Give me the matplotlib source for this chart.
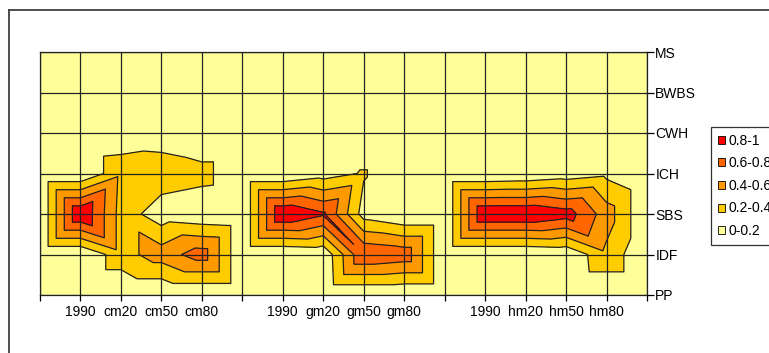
import numpy as np
import matplotlib
matplotlib.use("Agg")
import matplotlib.pyplot as plt
import matplotlib.tri as mtri
from matplotlib.patches import Patch
from matplotlib.lines import Line2D

plt.rcParams['font.family'] = ['Liberation Sans', 'DejaVu Sans']

# categories
cols = ["", "1990", "cm20", "cm50", "cm80", "", "1990", "gm20", "gm50", "gm80",
        "", "1990", "hm20", "hm50", "hm80", ""]
zones = ["PP", "IDF", "SBS", "ICH", "CWH", "BWBS", "MS"]

# one row of values per zone (bottom to top)
pp   = [0, 0,    0,    0,    0,    0, 0,   0,    0,    0,    0, 0,   0,    0,    0,    0]
idf  = [0, 0,    0.32, 0.5,  0.7,  0, 0,   0.03, 0.79, 0.73, 0, 0,   0,    0.03, 0.35, 0]
sbs  = [0, 1.0,  0.32, 0.08, 0.03, 0, 1.0, 0.83, 0.11, 0,    0, 1.0, 1.0,  0.9,  0.5,  0]
ich  = [0, 0,    0.35, 0.33, 0.28, 0, 0,   0.1,  0.22, 0,    0, 0,   0.02, 0.08, 0.15, 0]
cwh  = [0, 0,    0.03, 0.08, 0,    0, 0,   0,    0,    0,    0, 0,   0,    0,    0,    0]
bwbs = [0]*16
ms   = [0]*16

levels = [0, 0.2, 0.4, 0.6, 0.8, 1.001]
colors = ["#FFFF99", "#FFCC00", "#FF9900", "#FF6600", "#FF0000"]
bands = ["0-0.2", "0.2-0.4", "0.4-0.6", "0.6-0.8", "0.8-1"]

Z = np.array([pp, idf, sbs, ich, cwh, bwbs, ms], dtype=float)
ny, nx = Z.shape
X, Y = np.meshgrid(np.arange(nx), np.arange(ny))

# split every cell along the diagonal with the larger sum (like excel does)
tris = []
for j in range(ny - 1):
    for i in range(nx - 1):
        a = j * nx + i
        b = a + 1
        c = a + nx
        d = c + 1
        if Z[j, i] + Z[j + 1, i + 1] >= Z[j, i + 1] + Z[j + 1, i]:
            tris += [[a, b, d], [a, d, c]]
        else:
            tris += [[a, b, c], [b, d, c]]
tri = mtri.Triangulation(X.ravel(), Y.ravel(), tris)

fig = plt.figure(figsize=(7.69, 3.53), dpi=100)
ax = fig.add_axes([40 / 769, 58 / 353, 607 / 769, 243 / 353])

ax.tricontourf(tri, Z.ravel(), levels=levels, colors=colors)
ax.tricontour(tri, Z.ravel(), levels=levels[1:5], colors='#222222', linewidths=0.9)

ax.set_xlim(0, nx - 1)
ax.set_ylim(0, ny - 1)
ax.set_xticks(range(nx))
ax.set_xticklabels(cols, fontsize=10)
ax.set_yticks(range(ny))
ax.set_yticklabels(zones, fontsize=10)
ax.yaxis.tick_right()
ax.tick_params(axis='x', length=4, width=0.9, pad=3)
ax.tick_params(axis='y', length=5, width=0.9, pad=1)
ax.grid(True, color='#222222', linewidth=0.9)
ax.set_axisbelow(False)
for s in ax.spines.values():
    s.set_color('#222222')
    s.set_linewidth(0.9)

# chart area border (cut off at right and bottom)
fig.add_artist(Line2D([8.7 / 769, 8.7 / 769], [0, 1 - 10 / 353], color='#404040', lw=1.3))
fig.add_artist(Line2D([8.7 / 769, 1], [1 - 10 / 353, 1 - 10 / 353], color='#404040', lw=1.3))

handles = [Patch(facecolor=c, edgecolor='black', linewidth=0.6, label=l)
           for c, l in zip(colors[::-1], bands[::-1])]
leg = fig.legend(handles=handles, loc='upper left',
                 bbox_to_anchor=(710.7 / 769, 1 - 126.7 / 353),
                 fontsize=10, frameon=True, fancybox=False, borderaxespad=0,
                 handlelength=0.5, handleheight=0.5, handletextpad=0.3,
                 labelspacing=0.62, borderpad=0.5)
leg.get_frame().set_edgecolor('black')
leg.get_frame().set_linewidth(0.9)

fig.savefig("out.png", dpi=100)
